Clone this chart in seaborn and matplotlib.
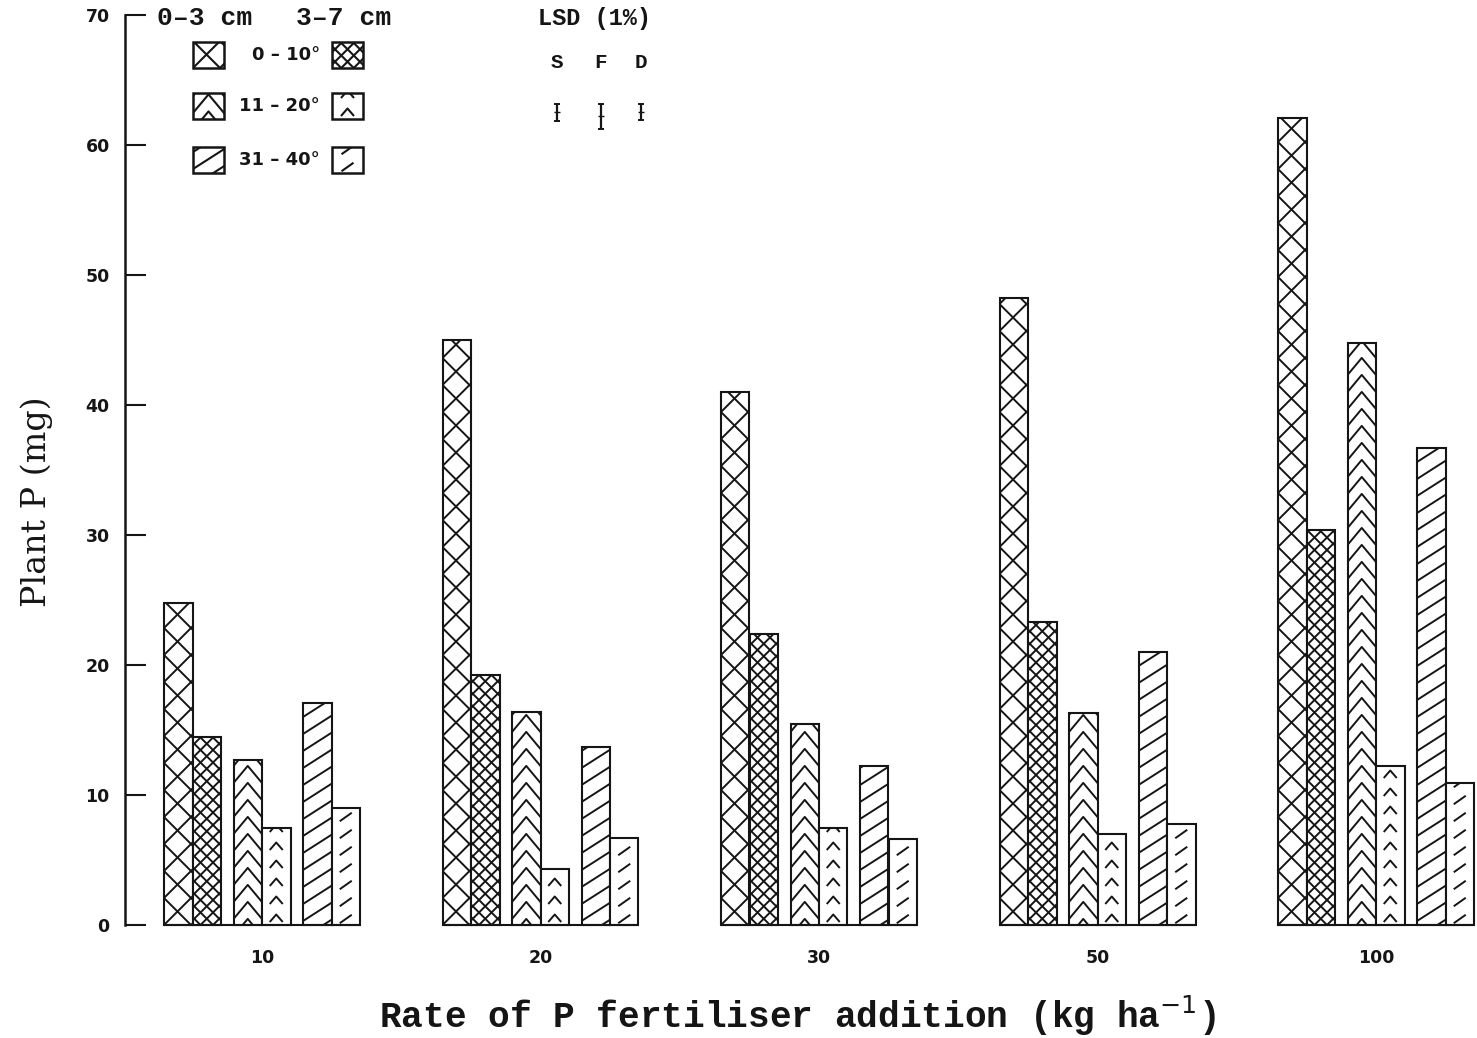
import numpy as np
import pandas as pd
import matplotlib
matplotlib.use("Agg")
import matplotlib.pyplot as plt
import seaborn as sns
from matplotlib.collections import LineCollection
from matplotlib.patches import Rectangle
from matplotlib.transforms import IdentityTransform

# ---------------- data ----------------
rates = ['10', '20', '30', '50', '100']
depths = ['0–3 cm', '3–7 cm']
slopes = ['0 – 10°', '11 – 20°', '31 – 40°']
v_03_0_10 = [24.8, 45.0, 41.0, 48.2, 62.1]
v_37_0_10 = [14.5, 19.2, 22.4, 23.3, 30.4]
v_03_11_20 = [12.7, 16.4, 15.5, 16.3, 44.8]
v_37_11_20 = [7.5, 4.3, 7.5, 7.0, 12.2]
v_03_31_40 = [17.1, 13.7, 12.2, 21.0, 36.7]
v_37_31_40 = [9.0, 6.7, 6.6, 7.8, 10.9]
lsd_labels = ['S', 'F', 'D']
lsd_values = [1.3, 1.9, 1.2]
y_ticks = [0, 10, 20, 30, 40, 50, 60, 70]

series = [
    (depths[0], slopes[0], v_03_0_10, 'cross'),
    (depths[1], slopes[0], v_37_0_10, 'dcross'),
    (depths[0], slopes[1], v_03_11_20, 'chev'),
    (depths[1], slopes[1], v_37_11_20, 'schev'),
    (depths[0], slopes[2], v_03_31_40, 'diag'),
    (depths[1], slopes[2], v_37_31_40, 'sdiag'),
]
rows = []
for d, s, vals, _ in series:
    for r, v in zip(rates, vals):
        rows.append({'rate': r, 'group': f'{d} {s}', 'P': v})
df = pd.DataFrame(rows)
hue_order = [f'{d} {s}' for d, s, _, _ in series]
kinds = [k for _, _, _, k in series]

# ---------------- layout ----------------
W, H = 1477, 1038
DPI = 100
AX_L, AX_R, AX_T, AX_B = 125, 1477, 15, 925
GROUP0, GROUP_STEP = 262.0, 278.5
BAR_PX, GAP_PX = 28.5, 12.5
INK = '#151515'

sns.set_theme(style='white')
plt.rcParams['font.family'] = ['DejaVu Sans']

fig = plt.figure(figsize=(W / DPI, H / DPI), dpi=DPI)
fig.patch.set_facecolor('white')
ax = fig.add_axes([AX_L / W, 1 - AX_B / H, (AX_R - AX_L) / W, (AX_B - AX_T) / H])
ax.set_facecolor('white')

bw = BAR_PX / GROUP_STEP
gap = GAP_PX / GROUP_STEP
sns.barplot(data=df, x='rate', y='P', hue='group', order=rates, hue_order=hue_order,
            width=6 * bw, dodge=True, palette=['white'] * 6, saturation=1,
            edgecolor=INK, linewidth=1.5, errorbar=None, legend=False, ax=ax)

# pair bars: gaps between slope classes
for h, cont in enumerate(ax.containers):
    p = h // 2
    for bar in cont:
        bar.set_x(bar.get_x() + (p - 1) * gap)
        bar.set_clip_on(False)

xl = -(GROUP0 - AX_L) / GROUP_STEP
ax.set_xlim(xl, xl + (AX_R - AX_L) / GROUP_STEP)
ax.set_ylim(0, 70)


# ---------------- pattern fills (in display pixels) ----------------
def pattern_segments(kind, x0, y0, x1, y1):
    w = x1 - x0
    xc = 0.5 * (x0 + x1)
    hgt = y1 - y0
    L = 40
    segs = []
    if kind in ('cross', 'dcross'):
        p = 27.0 if kind == 'cross' else 12.5
        xa = x0 if kind == 'cross' else xc - p / 2
        for k in range(-int(w / p) - 4, int((hgt + w) / p) + 5):
            b = y0 + k * p
            segs.append([(xa - L, b - L), (xa + w + L, b + w + L)])
            segs.append([(xa - L, b + L), (xa + w + L, b - w - L)])
    elif kind == 'chev':
        p, hh = 17.0, 0.6 * w
        s = hh / (w / 2)
        for k in range(-2, int(hgt / p) + 3):
            b = y0 + k * p + 6
            segs.append([(x0 - 5, b + hh - s * (xc - x0 + 5)), (xc, b + hh),
                         (x1 + 5, b + hh - s * (x1 + 5 - xc))])
    elif kind == 'schev':
        p, hw, hh = 18.0, 6.5, 7.5
        for k in range(0, int(hgt / p) + 2):
            b = y0 + k * p + 3
            segs.append([(xc - hw, b), (xc, b + hh), (xc + hw, b)])
    elif kind == 'diag':
        p, s = 17.0, 0.64
        for k in range(-3, int(hgt / p) + 3):
            b = y0 + k * p + 4
            segs.append([(x0 - 5, b - 5 * s), (x1 + 5, b + (w + 5) * s)])
    elif kind == 'sdiag':
        p, dx, dy = 17.0, 12.0, 8.5
        for k in range(0, int(hgt / p) + 2):
            b = y0 + k * p + 6
            segs.append([(xc - dx / 2, b - dy / 2), (xc + dx / 2, b + dy / 2)])
    return segs


def add_pattern(container, patch, kind, x0, y0, x1, y1, lw=1.4):
    lc = LineCollection(pattern_segments(kind, x0, y0, x1, y1), colors=INK,
                        linewidths=lw, transform=IdentityTransform(),
                        zorder=patch.get_zorder() + 0.5)
    if container is fig:
        fig.add_artist(lc)
    else:
        ax.add_collection(lc, autolim=False)
    # clip to the bar outline (set after adding, as a path)
    lc.set_clip_path(patch.get_path(), patch.get_transform())
    lc.set_clip_box(None)


for h, cont in enumerate(ax.containers):
    for bar in cont:
        (dx0, dy0) = ax.transData.transform((bar.get_x(), 0))
        (dx1, dy1) = ax.transData.transform((bar.get_x() + bar.get_width(), bar.get_height()))
        add_pattern(ax, bar, kinds[h], dx0, dy0, dx1, dy1)

# group baselines joining the bars of each rate
for i in range(len(rates)):
    bars = [cont[i] for cont in ax.containers]
    xmin = min(b.get_x() for b in bars)
    xmax = max(b.get_x() + b.get_width() for b in bars)
    ax.hlines(0, xmin, xmax, colors=INK, linewidth=1.5, clip_on=False, zorder=3)

# ---------------- axes styling ----------------
for side in ['top', 'right', 'bottom']:
    ax.spines[side].set_visible(False)
ax.spines['left'].set_color(INK)
ax.spines['left'].set_linewidth(1.8)
ax.set_yticks(y_ticks)
ax.tick_params(axis='y', direction='in', length=15, width=1.5, color=INK, pad=11,
               labelsize=12.5, labelcolor=INK, left=True)
ax.tick_params(axis='x', length=0, pad=17, labelsize=12.5, labelcolor=INK)
for t in ax.get_yticklabels() + ax.get_xticklabels():
    t.set_fontweight('bold')

ax.set_xlabel('Rate of P fertiliser addition (kg ha$^{-1}$)',
              fontfamily='Liberation Mono', fontweight='bold', fontsize=26, color=INK)
ax.xaxis.set_label_coords((797 - AX_L) / (AX_R - AX_L), -(1028 - AX_B) / (AX_B - AX_T))
ax.xaxis.label.set_va('baseline')
ax.set_ylabel('Plant P (mg)', fontfamily='DejaVu Serif', fontsize=24, color=INK)
ax.yaxis.set_label_coords(-(AX_L - 37) / (AX_R - AX_L), (AX_B - 502) / (AX_B - AX_T))
ax.yaxis.label.set_va('center')


# ---------------- legend block ----------------
def fx(x):
    return x / W


def fy(y):
    return 1 - y / H


mono = dict(fontfamily='Liberation Mono', fontweight='bold', color=INK)
fig.text(fx(157), fy(18), depths[0], fontsize=19, va='center', ha='left', **mono)
fig.text(fx(296), fy(18), depths[1], fontsize=19, va='center', ha='left', **mono)

row_y = [55, 106, 160]
box_w, box_h = 31, 26
for r, yc in enumerate(row_y):
    fig.text(fx(320), fy(yc), slopes[r], fontsize=13, fontweight='bold', color=INK,
             ha='right', va='center')
    for c, xl_px in enumerate([193, 332]):
        kind = kinds[2 * r + c]
        x0, y0 = xl_px, H - (yc + box_h / 2)
        rect = Rectangle((x0, y0), box_w, box_h, transform=IdentityTransform(),
                         facecolor='white', edgecolor=INK, linewidth=1.8, zorder=3)
        fig.add_artist(rect)
        add_pattern(fig, rect, kind, x0, y0, x0 + box_w, y0 + box_h, lw=1.5)

# ---------------- LSD (1%) block ----------------
fig.text(fx(538), fy(18), 'LSD (1%)', fontsize=17, va='center', ha='left', **mono)
lsd_x_px = [557, 601, 641]
inv = ax.transData.inverted()
for lab, val, xp in zip(lsd_labels, lsd_values, lsd_x_px):
    fig.text(fx(xp), fy(62), lab, fontsize=15, va='center', ha='center', **mono)
    xd, ytop = inv.transform((xp, H - 104))
    ax.errorbar([xd], [ytop - val / 2], yerr=[val / 2], fmt='_', color=INK,
                markersize=5, capsize=2.5, elinewidth=1.6, capthick=1.4,
                clip_on=False)

fig.savefig('out.png', dpi=DPI, facecolor='white')
